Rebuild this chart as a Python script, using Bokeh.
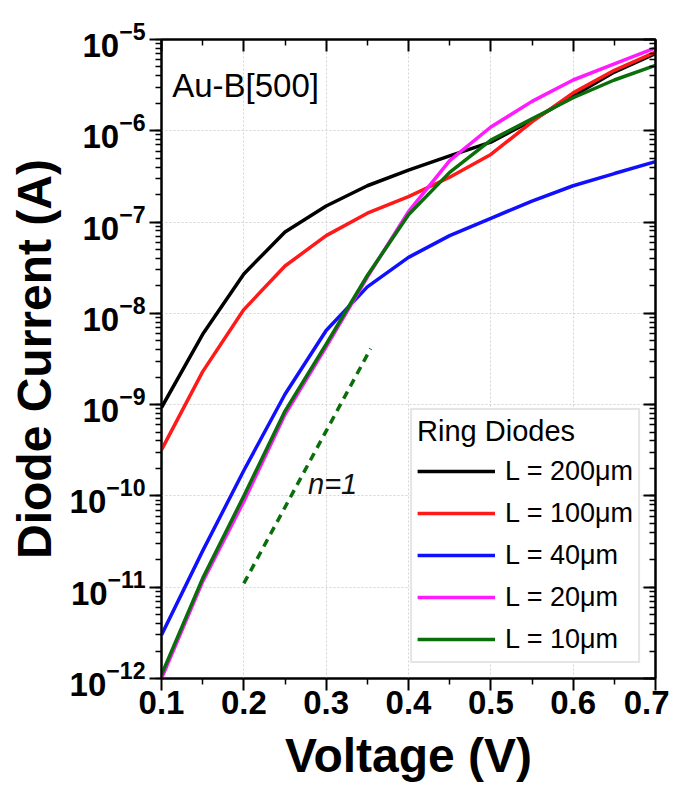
from bokeh.plotting import figure
from bokeh.models import (LinearAxis, LogAxis, Legend, LegendItem, Label,
                          Range1d, FixedTicker, LogTicker)
from bokeh.embed import file_html
from bokeh.resources import INLINE

# ---------------- data ----------------
voltage = [0.10, 0.15, 0.20, 0.25, 0.30, 0.35, 0.40, 0.45, 0.50, 0.55, 0.60, 0.65, 0.70]
i_200um = [9.3e-10, 5.9e-9, 2.7e-8, 7.8e-8, 1.5e-7, 2.5e-7, 3.7e-7, 5.3e-7, 7.5e-7, 1.3e-6, 2.4e-6, 4.4e-6, 7.0e-6]
i_100um = [3.2e-10, 2.3e-9, 1.1e-8, 3.3e-8, 7.1e-8, 1.25e-7, 1.9e-7, 3.1e-7, 5.5e-7, 1.25e-6, 2.6e-6, 4.6e-6, 7.3e-6]
i_40um = [3.0e-12, 2.5e-11, 1.9e-10, 1.3e-9, 6.5e-9, 1.95e-8, 4.1e-8, 7.1e-8, 1.1e-7, 1.7e-7, 2.5e-7, 3.4e-7, 4.6e-7]
i_20um = [1.0e-12, 1.15e-11, 8.7e-11, 7.8e-10, 4.3e-9, 2.5e-8, 1.3e-7, 4.7e-7, 1.1e-6, 2.1e-6, 3.6e-6, 5.4e-6, 8.1e-6]
i_10um = [1.1e-12, 1.25e-11, 1.0e-10, 8.5e-10, 4.6e-9, 2.6e-8, 1.2e-7, 3.5e-7, 7.9e-7, 1.35e-6, 2.3e-6, 3.6e-6, 5.2e-6]

series_labels = ["L = 200\u03bcm", "L = 100\u03bcm", "L = 40\u03bcm", "L = 20\u03bcm", "L = 10\u03bcm"]
series_values = [i_200um, i_100um, i_40um, i_20um, i_10um]
series_colors = ["#000000", "#ff1a1a", "#1010ff", "#ff1aff", "#0a6e0a"]

# n=1 guide line
guide_v = [0.20, 0.354]
guide_i = [1.1e-11, 4.1e-9]

x_ticks = [0.1, 0.2, 0.3, 0.4, 0.5, 0.6, 0.7]
x_minor = [0.15, 0.25, 0.35, 0.45, 0.55, 0.65]

FONT = "Liberation Sans"

p = figure(width=669, height=787, output_backend="svg", toolbar_location=None,
           y_axis_type="log",
           x_range=Range1d(0.1, 0.7), y_range=Range1d(1e-12, 1e-5),
           min_border_left=161, min_border_right=14, min_border_top=39,
           min_border_bottom=109)

p.outline_line_color = "black"
p.outline_line_width = 2
p.background_fill_color = "white"
p.border_fill_color = "white"

# grid
for g in (p.xgrid, p.ygrid):
    g.grid_line_color = "#d4d4d4"
    g.grid_line_dash = "2 2"
    g.grid_line_width = 1

xa = p.xaxis[0]
xa.ticker = FixedTicker(ticks=x_ticks, minor_ticks=x_minor)
xa.axis_label = "Voltage (V)"
ya = p.yaxis[0]
ya.ticker = LogTicker(num_minor_ticks=10)
ya.axis_label = "Diode Current (A)"

for ax in (xa, ya):
    ax.axis_line_width = 2
    ax.major_tick_line_width = 2
    ax.minor_tick_line_width = 1.5
    ax.major_tick_out = 12
    ax.major_tick_in = 0
    ax.minor_tick_out = 6
    ax.minor_tick_in = 0
    ax.major_label_text_font = FONT
    ax.major_label_text_font_style = "bold"
    ax.major_label_text_font_size = "33px"
    ax.major_label_text_color = "black"
    ax.axis_label_text_font = FONT
    ax.axis_label_text_font_style = "bold"
    ax.axis_label_text_font_size = "48px"
    ax.axis_label_text_color = "black"
xa.major_label_standoff = 0
xa.axis_label_standoff = 12
ya.major_label_standoff = 4
ya.axis_label_standoff = 6

# mirror axes (ticks inside, labels hidden)
top = LinearAxis(ticker=FixedTicker(ticks=x_ticks, minor_ticks=x_minor))
right = LogAxis(ticker=LogTicker(num_minor_ticks=10))
for ax in (top, right):
    ax.axis_line_width = 2
    ax.major_tick_line_width = 2
    ax.minor_tick_line_width = 1.5
    ax.major_tick_in = 12
    ax.major_tick_out = 0
    ax.minor_tick_in = 6
    ax.minor_tick_out = 0
    ax.major_label_text_font_size = "1px"
    ax.major_label_text_alpha = 0
    ax.major_label_standoff = 0
p.add_layout(top, "above")
p.add_layout(right, "right")

# curves
items = []
for lab, vals, col in zip(series_labels, series_values, series_colors):
    r = p.line(voltage, vals, line_color=col, line_width=3.5)
    items.append(LegendItem(label=lab, renderers=[r]))

p.line(guide_v, guide_i, line_color="#0a6e0a", line_width=3.5, line_dash="8 6")

legend = Legend(items=items, location="bottom_right", title="Ring Diodes")
legend.title_text_font = FONT
legend.title_text_font_size = "29px"
legend.title_text_font_style = "normal"
legend.title_text_color = "black"
legend.title_standoff = 6
legend.label_text_font = FONT
legend.label_text_font_size = "27px"
legend.label_text_color = "black"
legend.glyph_width = 78
legend.glyph_height = 34
legend.label_height = 34
legend.spacing = 8
legend.label_standoff = 10
legend.padding = 5
legend.margin = 15
legend.border_line_color = "#cccccc"
legend.border_line_width = 2
legend.background_fill_alpha = 1.0
p.add_layout(legend, "center")

p.add_layout(Label(x=0.113, y=10 ** -5.5, text="Au-B[500]", text_font=FONT,
                   text_font_size="33px", text_baseline="middle", text_color="black"))
p.add_layout(Label(x=0.278, y=1.35e-10, text="n=1", text_font=FONT,
                   text_font_size="29px", text_font_style="italic",
                   text_baseline="middle", text_color="#111111"))

open("out.html", "w").write(file_html(p, INLINE))
